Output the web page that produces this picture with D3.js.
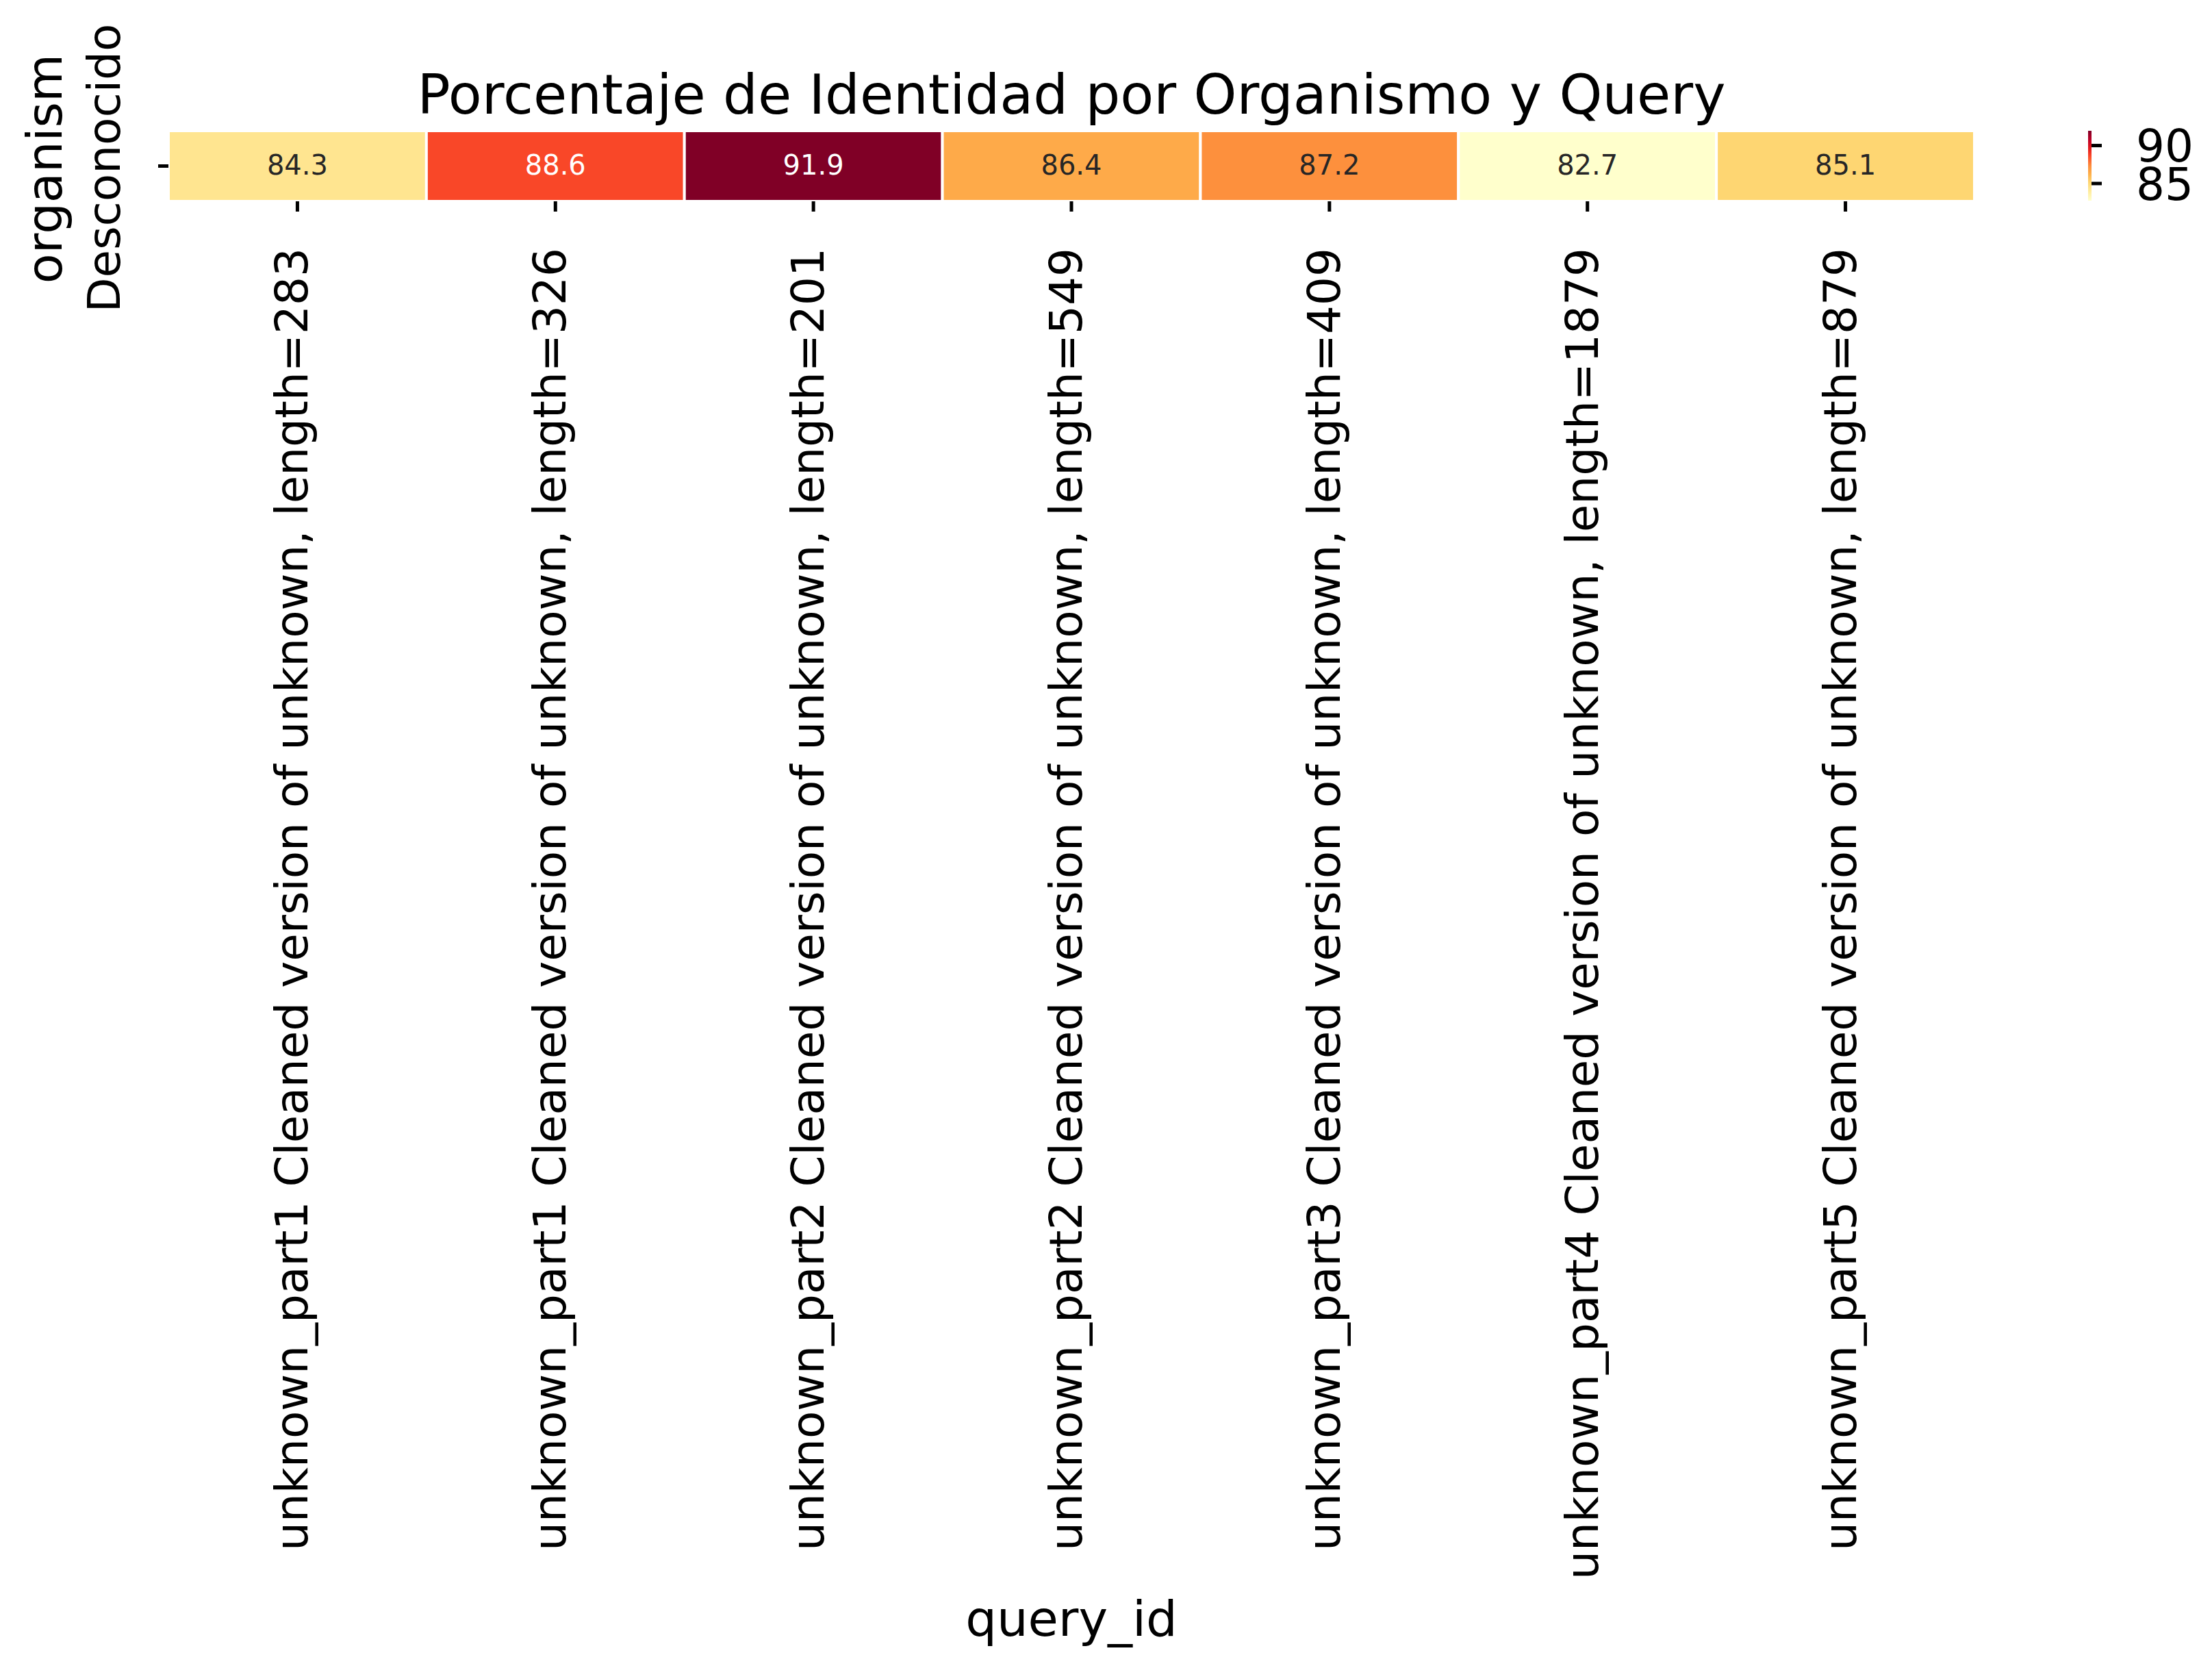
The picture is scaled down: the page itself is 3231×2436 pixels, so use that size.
<!DOCTYPE html>
<html>
<head>
<meta charset="utf-8">
<script src="https://cdn.jsdelivr.net/npm/d3@7/dist/d3.min.js"></script>
<style>
  html, body { margin: 0; padding: 0; background: #ffffff; }
  svg { display: block; }
  text { font-family: "DejaVu Sans", sans-serif; }
</style>
</head>
<body>
<script>
// ---------------- data ----------------
const organisms = ["Desconocido"];
const queryIds = [
  "unknown_part1 Cleaned version of unknown, length=283",
  "unknown_part1 Cleaned version of unknown, length=326",
  "unknown_part2 Cleaned version of unknown, length=201",
  "unknown_part2 Cleaned version of unknown, length=549",
  "unknown_part3 Cleaned version of unknown, length=409",
  "unknown_part4 Cleaned version of unknown, length=1879",
  "unknown_part5 Cleaned version of unknown, length=879"
];
const identityValues = [84.3, 88.6, 91.9, 86.4, 87.2, 82.7, 85.1];
const colorbarTicks = [85, 90];
const ylOrRd = ["#ffffcc","#ffeda0","#fed976","#feb24c","#fd8d3c","#fc4e2a","#e31a1c","#bd0026","#800026"];
const titleText = "Porcentaje de Identidad por Organismo y Query";
const xLabelText = "query_id";
const yLabelText = "organism";

// ---------------- layout ----------------
const W = 3231, H = 2436;
const axL = 246, axR = 2884, axT = 191, axB = 294;
const cbL = 3050, cbR = 3055;

const svg = d3.select("body").append("svg")
  .attr("width", W).attr("height", H)
  .attr("viewBox", `0 0 ${W} ${H}`);

svg.append("rect").attr("width", W).attr("height", H).attr("fill", "#ffffff");

const vmin = d3.min(identityValues), vmax = d3.max(identityValues);
const color = d3.scaleLinear()
  .domain(ylOrRd.map((_, i) => vmin + (vmax - vmin) * i / (ylOrRd.length - 1)))
  .range(ylOrRd)
  .interpolate(d3.interpolateRgb)
  .clamp(true);

const x = d3.scaleBand().domain(queryIds).range([axL, axR]).padding(0);
const y = d3.scaleBand().domain(organisms).range([axT, axB]).padding(0);

const cells = identityValues.map((v, i) => ({ q: queryIds[i], o: organisms[0], v }));

// cells
svg.append("g").selectAll("rect").data(cells).join("rect")
  .attr("x", d => x(d.q))
  .attr("y", d => y(d.o))
  .attr("width", x.bandwidth())
  .attr("height", y.bandwidth())
  .attr("fill", d => color(d.v))
  .attr("stroke", "#ffffff")
  .attr("stroke-width", 4);

// annotations
function lum(c) {
  const r = d3.rgb(c);
  const f = u => { u /= 255; return u <= 0.03928 ? u / 12.92 : Math.pow((u + 0.055) / 1.055, 2.4); };
  return 0.2126 * f(r.r) + 0.7152 * f(r.g) + 0.0722 * f(r.b);
}
svg.append("g").selectAll("text").data(cells).join("text")
  .attr("x", d => x(d.q) + x.bandwidth() / 2)
  .attr("y", d => y(d.o) + y.bandwidth() / 2 + 12)
  .attr("text-anchor", "middle")
  .attr("font-size", 40)
  .attr("fill", d => lum(color(d.v)) > 0.408 ? "#262626" : "#ffffff")
  .text(d => d.v.toFixed(1));

// x axis
const xAxis = svg.append("g")
  .attr("transform", `translate(0,${axB})`)
  .call(d3.axisBottom(x).tickSize(15).tickSizeOuter(0));
xAxis.select(".domain").remove();
xAxis.selectAll(".tick line").attr("stroke", "#000").attr("stroke-width", 5);
xAxis.selectAll(".tick text")
  .attr("x", null).attr("y", null).attr("dy", null)
  .attr("transform", "translate(15,68) rotate(-90)")
  .attr("text-anchor", "end")
  .attr("font-size", 66)
  .attr("font-family", "DejaVu Sans")
  .attr("fill", "#000");

// y axis
const yAxis = svg.append("g")
  .attr("transform", `translate(${axL},0)`)
  .call(d3.axisLeft(y).tickSize(15).tickSizeOuter(0));
yAxis.select(".domain").remove();
yAxis.selectAll(".tick line").attr("stroke", "#000").attr("stroke-width", 5);
yAxis.selectAll(".tick text")
  .attr("x", null).attr("y", null).attr("dy", null)
  .attr("transform", "translate(-71,3) rotate(-90)")
  .attr("text-anchor", "middle")
  .attr("font-size", 66)
  .attr("font-family", "DejaVu Sans")
  .attr("fill", "#000");

// title
svg.append("text")
  .attr("x", (axL + axR) / 2).attr("y", 166)
  .attr("text-anchor", "middle")
  .attr("font-size", 80)
  .attr("fill", "#000")
  .text(titleText);

// x label
svg.append("text")
  .attr("x", (axL + axR) / 2).attr("y", 2389)
  .attr("text-anchor", "middle")
  .attr("font-size", 72)
  .attr("fill", "#000")
  .text(xLabelText);

// y label
svg.append("text")
  .attr("transform", `translate(90,${(axT + axB) / 2 + 4}) rotate(-90)`)
  .attr("text-anchor", "middle")
  .attr("font-size", 72)
  .attr("fill", "#000")
  .text(yLabelText);

// colorbar
const cbScale = d3.scaleLinear().domain([vmin, vmax]).range([293, 191]);
const defs = svg.append("defs");
const grad = defs.append("linearGradient").attr("id", "cbgrad")
  .attr("x1", 0).attr("y1", 1).attr("x2", 0).attr("y2", 0);
color.domain().forEach((dv, i) => {
  grad.append("stop")
    .attr("offset", (dv - vmin) / (vmax - vmin))
    .attr("stop-color", ylOrRd[i]);
});
svg.append("rect")
  .attr("x", cbL).attr("y", cbScale(vmax))
  .attr("width", cbR - cbL).attr("height", cbScale(vmin) - cbScale(vmax))
  .attr("fill", "url(#cbgrad)");

const cbAxis = svg.append("g")
  .attr("transform", `translate(${cbR},0)`)
  .call(d3.axisRight(cbScale).tickValues(colorbarTicks).tickSize(15).tickSizeOuter(0).tickFormat(d3.format("d")));
cbAxis.select(".domain").remove();
cbAxis.selectAll(".tick line").attr("stroke", "#000").attr("stroke-width", 5);
cbAxis.selectAll(".tick text")
  .attr("x", 65).attr("dy", "0.36em")
  .attr("text-anchor", "start")
  .attr("font-size", 66)
  .attr("font-family", "DejaVu Sans")
  .attr("fill", "#000");
</script>
</body>
</html>
